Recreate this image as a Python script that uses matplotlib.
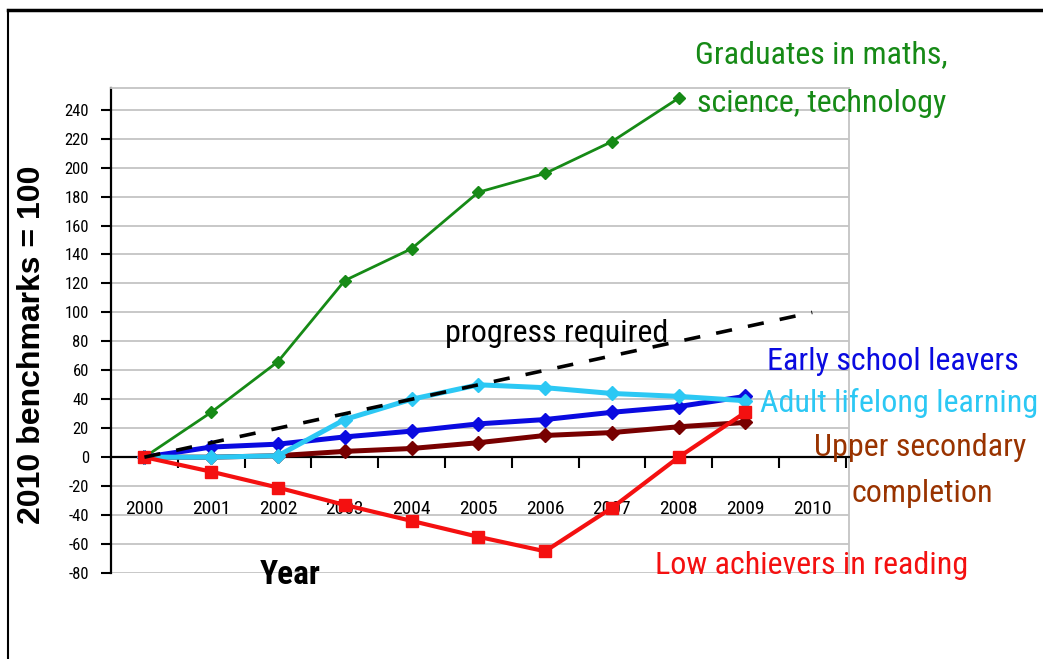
import matplotlib
matplotlib.use("Agg")
import matplotlib.pyplot as plt
from matplotlib import font_manager as fm
from matplotlib.lines import Line2D

names = {f.name for f in fm.fontManager.ttflist}

def pick(prefs):
    for p in prefs:
        if p in names:
            return p
    return 'DejaVu Sans'

NARROW = pick(['Liberation Sans Narrow', 'Arial Narrow', 'Roboto Condensed', 'PT Sans Narrow',
               'Archivo Narrow', 'Open Sans Condensed', 'Fira Sans Condensed',
               'Sofia Sans Condensed', 'Liberation Sans'])
REG = pick(['Liberation Sans', 'DejaVu Sans'])

years = ["2000", "2001", "2002", "2003", "2004", "2005", "2006", "2007", "2008", "2009", "2010"]
graduates = [0, 31, 66, 122, 144, 183, 196, 218, 248]
low_achievers = [0, -10, -21, -33, -44, -55, -65, -35, 0, 31]
early_leavers = [0, 7, 9, 14, 18, 23, 26, 31, 35, 42]
adult_learning = [0, 0, 1, 26, 40, 50, 48, 44, 42, 39]
upper_secondary = [0, 0, 1, 4, 6, 10, 15, 17, 21, 24]
progress_required = [0, 10, 20, 30, 40, 50, 60, 70, 80, 90, 100]
yticks = list(range(-80, 241, 20))

fig = plt.figure(figsize=(10.43, 6.59), dpi=100)
ax = fig.add_axes([111/1043, 1-573/659, 738/1043, (573-88)/659])

GREEN = '#168a16'
RED = '#f41010'
BLUE = '#0a0ae0'
CYAN = '#2cc8f4'
MAROON = '#780000'

def xs(vals):
    return list(range(len(vals)))

ax.plot(xs(graduates), graduates, color=GREEN, lw=2.0, marker='D', ms=6, zorder=3)
ax.plot(xs(upper_secondary), upper_secondary, color=MAROON, lw=3.6, marker='D', ms=7, zorder=3)
ax.plot(xs(early_leavers), early_leavers, color=BLUE, lw=3.6, marker='D', ms=7, zorder=4)
ax.plot(xs(adult_learning), adult_learning, color=CYAN, lw=3.6, marker='D', ms=7, zorder=5)
ax.plot(xs(low_achievers), low_achievers, color=RED, lw=3.0, marker='s', ms=8, zorder=6)
ax.plot(xs(progress_required), progress_required, color='black', lw=2.6,
        linestyle=(0, (4.5, 4.5)), zorder=7)

ax.set_xlim(-0.5, 10.55)
ax.set_ylim(-80, 255)

ax.set_yticks(yticks)
ax.set_yticklabels([str(v) for v in yticks])
ax.yaxis.grid(True, color='#c4c4c4', lw=1.3)
ax.set_axisbelow(True)
ax.tick_params(axis='y', direction='out', length=7, width=1.5, pad=9, colors='black',
               labelsize=12, labelfontfamily=NARROW)

ax.set_xticks([i + 0.5 for i in range(11)])
ax.set_xticklabels([])
ax.set_xticks(list(range(11)), minor=True)
ax.set_xticklabels(years, minor=True)
ax.tick_params(axis='x', which='major', direction='out', length=8, width=1.5)
ax.tick_params(axis='x', which='minor', length=0, pad=31, labelsize=14, labelfontfamily=NARROW)

ax.spines['bottom'].set_position(('data', 0))
ax.spines['bottom'].set_linewidth(1.6)
ax.spines['left'].set_linewidth(1.6)
ax.spines['top'].set_color('#c4c4c4')
ax.spines['right'].set_color('#c4c4c4')
ax.spines['top'].set_linewidth(1.3)
ax.spines['right'].set_linewidth(1.3)

fig.text(32/1043, 1-345/659, "2010 benchmarks = 100", rotation=90, ha='center', va='center',
         family=REG, fontweight='bold', fontsize=23)
fig.text(290/1043, 1-575/659, "Year", ha='center', va='center',
         family=NARROW, fontweight='bold', fontsize=24)

def ftext(x, y, s, c, size=23):
    fig.text(x/1043, 1-y/659, s, ha='center', va='center', color=c, family=NARROW, fontsize=size)

ftext(821, 55, "Graduates in maths,", GREEN)
ftext(822, 103, "science, technology", GREEN)
ftext(557, 333, "progress required", 'black')
ftext(893, 362, "Early school leavers", BLUE)
ftext(899, 403, "Adult lifelong learning", CYAN)
ftext(920, 448, "Upper secondary", '#993300')
ftext(922, 493, "completion", '#993300')
ftext(812, 566, "Low achievers in reading", RED)

fig.add_artist(Line2D([8/1043, 1.0], [1-10/659, 1-10/659], color='black', lw=2.5, transform=fig.transFigure))
fig.add_artist(Line2D([8/1043, 8/1043], [0, 1-10/659], color='black', lw=1.5, transform=fig.transFigure))

fig.savefig("out.png", dpi=100)
